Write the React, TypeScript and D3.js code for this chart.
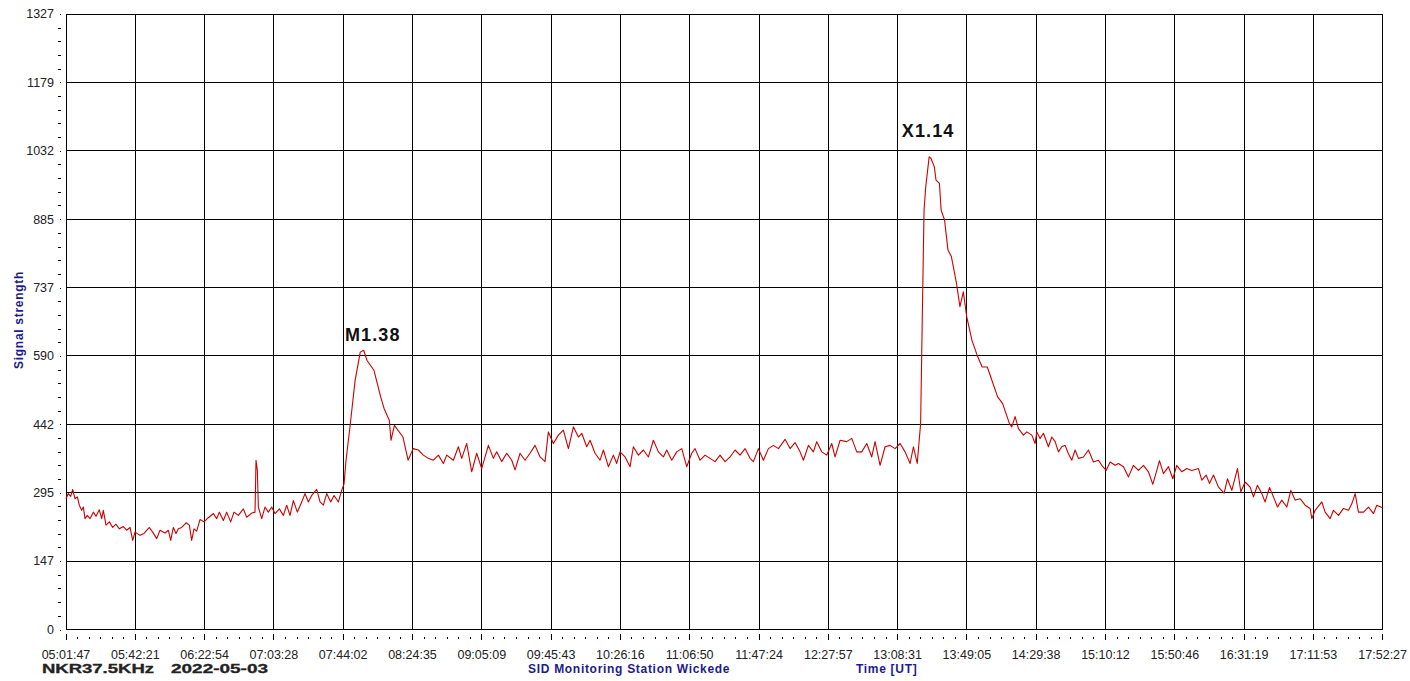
import { useMemo } from "react";
import * as d3 from "d3";

const WIDTH = 1410;
const HEIGHT = 681;
const MARGIN = { top: 14, left: 66, right: 1410 - 1382.7, bottom: 681 - 629.5 };

const FONT = "'Liberation Sans', Arial, sans-serif";
const TRACE_COLOR = "#cc0000";
const NAVY = "#1c1c8a";

// x axis labels (UT)
const X_TICK_LABELS = [
  "05:01:47", "05:42:21", "06:22:54", "07:03:28", "07:44:02", "08:24:35", "09:05:09",
  "09:45:43", "10:26:16", "11:06:50", "11:47:24", "12:27:57", "13:08:31", "13:49:05",
  "14:29:38", "15:10:12", "15:50:46", "16:31:19", "17:11:53", "17:52:27",
];

const Y_TICK_LABELS = [0, 147, 295, 442, 590, 737, 885, 1032, 1179, 1327];
const Y_MAX = 1327;

// signal trace, in pieces
// morning (before M flare)
const morningTimes = [
  "05:01:47", "05:03:09", "05:04:31", "05:05:41", "05:07:03", "05:08:25", "05:09:35", "05:10:57",
  "05:11:56", "05:12:54", "05:14:16", "05:15:50", "05:17:47", "05:19:20", "05:21:17", "05:22:40",
  "05:23:38", "05:25:12", "05:27:09", "05:29:06", "05:31:03", "05:33:00", "05:35:20", "05:37:17",
  "05:39:15", "05:40:49", "05:42:10", "05:45:06", "05:47:26", "05:50:34", "05:52:31", "05:54:51",
  "05:56:49", "05:59:44", "06:01:41", "06:03:03", "06:04:37", "06:06:10", "06:07:32", "06:09:29",
  "06:12:02", "06:13:59", "06:15:20", "06:16:43", "06:18:16", "06:20:13", "06:22:34", "06:25:06",
  "06:28:02", "06:29:59", "06:31:32", "06:33:53", "06:35:50", "06:38:10", "06:40:07", "06:42:40",
  "06:45:35", "06:47:32", "06:50:28", "06:52:25", "06:53:00", "06:53:47", "06:54:22", "06:56:19",
  "06:58:16", "07:00:13", "07:02:10", "07:04:07", "07:06:40", "07:09:00", "07:10:57", "07:12:54",
  "07:14:51", "07:17:12", "07:19:44", "07:21:41", "07:23:38", "07:25:35", "07:28:31", "07:30:28",
  "07:32:25", "07:34:22", "07:36:43", "07:38:40", "07:41:12", "07:43:09", "07:44:31", "07:45:41",
];
const morningValues = [
  282, 293, 287, 302, 282, 286, 268, 257,
  264, 239, 246, 239, 253, 244, 258, 239,
  257, 225, 232, 220, 227, 217, 222, 214,
  220, 192, 210, 203, 207, 220, 210, 196,
  214, 208, 214, 192, 220, 207, 217, 220,
  230, 225, 192, 217, 212, 237, 232, 241,
  250, 239, 253, 235, 253, 232, 253, 246,
  260, 242, 251, 253, 365, 343, 264, 239,
  264, 253, 264, 250, 260, 246, 268, 246,
  278, 253, 275, 293, 275, 289, 302, 275,
  268, 293, 275, 289, 275, 300, 314, 365,
];

// M1.38 flare
const mFlareTimes = [
  "07:48", "07:51", "07:54", "07:56", "07:58", "08:02", "08:06",
  "08:08", "08:11", "08:12", "08:14", "08:19", "08:22", "08:25",
];
const mFlareValues = [
  437, 537, 598, 602, 580, 559, 501,
  476, 451, 408, 440, 415, 365, 390,
];

// midday plateau
const middayTimes = [
  "08:28:01", "08:30:57", "08:33:53", "08:36:48", "08:39:44", "08:42:40", "08:44:37",
  "08:48:31", "08:51:26", "08:53:23", "08:56:19", "08:59:14", "09:02:10", "09:05:05",
  "09:09:00", "09:11:55", "09:13:52", "09:16:48", "09:19:44", "09:22:40", "09:24:37",
  "09:27:32", "09:30:28", "09:33:23", "09:36:19", "09:39:14", "09:42:10", "09:44:07",
  "09:47:03", "09:49:58", "09:52:54", "09:55:50", "09:58:45", "10:01:41", "10:03:38",
  "10:06:34", "10:08:31", "10:11:26", "10:14:22", "10:16:19", "10:19:14", "10:22:10",
  "10:24:07", "10:26:04", "10:29:00", "10:31:55", "10:33:52", "10:36:48", "10:39:44",
  "10:42:40", "10:45:35", "10:48:31", "10:51:26", "10:53:23", "10:56:19", "10:59:14",
  "11:02:10", "11:05:05", "11:08:01", "11:09:58", "11:12:54", "11:15:49", "11:18:45",
  "11:21:41", "11:24:37", "11:27:32", "11:30:28", "11:33:23", "11:36:19", "11:39:14",
  "11:42:10", "11:44:07", "11:47:03", "11:49:58", "11:52:54", "11:55:49", "11:58:45",
  "12:02:39", "12:05:35", "12:08:31", "12:11:26", "12:13:23", "12:16:19", "12:19:14",
  "12:21:11", "12:24:07", "12:27:03", "12:29:58", "12:31:55", "12:34:51", "12:38:45",
  "12:41:41", "12:44:37", "12:47:32", "12:50:28", "12:53:23", "12:55:20", "12:58:16",
  "13:01:11", "13:04:07", "13:07:03", "13:09:58", "13:12:54", "13:15:50", "13:17:47",
];
const middayValues = [
  387, 376, 369, 365, 376, 358, 376,
  365, 394, 369, 401, 340, 380, 347,
  397, 369, 383, 362, 380, 365, 344,
  380, 365, 380, 397, 372, 362, 426,
  401, 419, 430, 390, 437, 415, 423,
  394, 408, 380, 365, 387, 351, 376,
  358, 383, 372, 351, 394, 376, 387,
  372, 408, 383, 372, 387, 365, 383,
  390, 351, 380, 390, 365, 376, 369,
  362, 376, 362, 372, 387, 376, 390,
  369, 362, 390, 365, 390, 397, 390,
  410, 390, 403, 383, 365, 397, 383,
  405, 383, 376, 401, 372, 408, 405,
  412, 383, 383, 401, 372, 405, 354,
  394, 397, 390, 401, 383, 358, 394,
];

// X1.14 flare
const xFlareTimes = [
  "13:20", "13:22", "13:23", "13:24", "13:25", "13:27", "13:28",
  "13:30", "13:31", "13:33", "13:34", "13:36", "13:38", "13:40",
  "13:43", "13:45", "13:47", "13:49", "13:52", "13:55",
  "13:58", "14:01", "14:03", "14:07", "14:10", "14:14",
];
const xFlareValues = [
  358, 444, 680, 904, 955, 1019, 1016,
  998, 969, 962, 904, 883, 818, 804,
  746, 696, 728, 674, 624, 592,
  566, 566, 545, 502, 487, 444,
];

// afternoon decline
const afternoonTimes = [
  "14:15:21", "14:17:18", "14:19:15", "14:22:11", "14:24:08", "14:27:04",
  "14:29:01", "14:29:59", "14:31:56", "14:33:53", "14:36:49", "14:38:46",
  "14:40:43", "14:42:40", "14:44:37", "14:46:34", "14:48:31", "14:50:28",
  "14:52:25", "14:54:22", "14:57:18", "15:00:14", "15:03:09", "15:06:05",
  "15:08:02", "15:10:34", "15:12:55", "15:15:50", "15:17:47", "15:20:43",
  "15:23:38", "15:26:34", "15:29:29", "15:32:25", "15:35:21", "15:37:53",
  "15:40:14", "15:41:47", "15:44:08", "15:47:04", "15:49:36", "15:51:56",
  "15:54:52", "15:57:47", "16:00:43", "16:04:37", "16:06:34", "16:09:07",
  "16:11:04", "16:13:24", "16:16:20", "16:19:38", "16:21:35", "16:24:08",
  "16:27:27", "16:29:24", "16:31:56", "16:34:52", "16:36:49", "16:39:09",
  "16:41:41", "16:43:38", "16:46:11", "16:48:31", "16:50:52", "16:53:24",
  "16:56:19", "16:58:40", "17:01:12", "17:04:08", "17:07:03", "17:09:59",
  "17:10:58", "17:12:55", "17:16:49", "17:18:46", "17:21:41", "17:23:38",
  "17:26:34", "17:29:30", "17:32:25", "17:34:22", "17:36:19", "17:38:16",
  "17:41:12", "17:44:08", "17:47:03", "17:49:00", "17:51:56", "17:52:27",
];
const afternoonValues = [
  437, 459, 433, 419, 426, 419,
  401, 426, 412, 423, 394, 415,
  405, 383, 394, 397, 379, 365,
  387, 369, 372, 387, 361, 365,
  354, 343, 361, 354, 358, 351,
  329, 354, 343, 354, 340, 313,
  343, 364, 336, 351, 325, 354,
  340, 347, 343, 347, 322, 333,
  315, 333, 307, 294, 325, 300,
  347, 297, 318, 307, 286, 311,
  293, 275, 306, 286, 264, 279,
  264, 300, 279, 282, 268, 261,
  239, 257, 275, 253, 239, 257,
  246, 261, 257, 271, 293, 253,
  253, 264, 250, 268, 263, 264,
];

// flare annotations
const flareLabels = ["M1.38", "X1.14"];
const flareTimes = ["07:45:06", "13:11:00"];
const flareLevels = [623, 1061];

const toSeconds = (s: string) => {
  const p = s.split(":").map(Number);
  return p[0] * 3600 + p[1] * 60 + (p[2] || 0);
};

export default function App() {
  const innerW = WIDTH - MARGIN.left - MARGIN.right;
  const innerH = HEIGHT - MARGIN.top - MARGIN.bottom;

  const t0 = toSeconds(X_TICK_LABELS[0]);
  const t1 = toSeconds(X_TICK_LABELS[X_TICK_LABELS.length - 1]);
  const step = (t1 - t0) / (X_TICK_LABELS.length - 1);

  const xScale = useMemo(
    () => d3.scaleLinear().domain([t0, t1]).range([MARGIN.left, MARGIN.left + innerW]),
    [t0, t1, innerW]
  );
  const yScale = useMemo(
    () => d3.scaleLinear().domain([0, Y_MAX]).range([MARGIN.top + innerH, MARGIN.top]),
    [innerH]
  );

  const times = [...morningTimes, ...mFlareTimes, ...middayTimes, ...xFlareTimes, ...afternoonTimes];
  const values = [...morningValues, ...mFlareValues, ...middayValues, ...xFlareValues, ...afternoonValues];
  const data = times.map((t, i) => ({ t: toSeconds(t), v: values[i] }));
  const linePath = d3
    .line<{ t: number; v: number }>()
    .defined((d) => d.v != null)
    .x((d) => xScale(d.t))
    .y((d) => yScale(d.v))(data);

  const xMajor = X_TICK_LABELS.map((_, i) => t0 + i * step);
  const xMinor = d3.range(0, (X_TICK_LABELS.length - 1) * 6 + 1).map((i) => t0 + (i * step) / 6);
  const yStep = Y_MAX / (Y_TICK_LABELS.length - 1);
  const yMajor = Y_TICK_LABELS.map((_, i) => i * yStep);
  const yMinor = d3.range(0, (Y_TICK_LABELS.length - 1) * 5 + 1).map((i) => (i * yStep) / 5);

  const left = MARGIN.left;
  const right = MARGIN.left + innerW;
  const top = MARGIN.top;
  const bottom = MARGIN.top + innerH;

  return (
    <svg
      width={WIDTH}
      height={HEIGHT}
      style={{ position: "absolute", left: 0, top: 0, background: "#fff" }}
    >
      <rect x={0} y={0} width={WIDTH} height={HEIGHT} fill="#fff" />

      {/* grid */}
      <g stroke="#000" strokeWidth={1} shapeRendering="crispEdges">
        {xMajor.map((t, i) => (
          <line key={"gx" + i} x1={xScale(t)} x2={xScale(t)} y1={top} y2={bottom} />
        ))}
        {yMajor.map((v, i) => (
          <line key={"gy" + i} x1={left} x2={right} y1={yScale(v)} y2={yScale(v)} />
        ))}
      </g>

      {/* trace */}
      <path d={linePath || ""} fill="none" stroke={TRACE_COLOR} strokeWidth={1.1} strokeLinejoin="round" />

      {/* y axis ticks + labels */}
      <g stroke="#000" strokeWidth={1} shapeRendering="crispEdges">
        {yMinor.map((v, i) => (
          <line
            key={"ym" + i}
            x1={i % 5 === 0 ? 60 : 58}
            x2={61}
            y1={Math.round(yScale(v)) + 0.5}
            y2={Math.round(yScale(v)) + 0.5}
          />
        ))}
      </g>
      <g fontFamily={FONT} fontSize={12.5} fill="#222" textAnchor="end">
        {Y_TICK_LABELS.map((lab, i) => (
          <text key={"yl" + i} x={54} y={yScale(yMajor[i])} dy="0.35em">
            {lab}
          </text>
        ))}
      </g>

      {/* x axis ticks + labels */}
      <g stroke="#000" strokeWidth={1} shapeRendering="crispEdges">
        {xMinor.map((t, i) => (
          <line
            key={"xm" + i}
            x1={xScale(t)}
            x2={xScale(t)}
            y1={i % 6 === 0 ? 634 : 636.5}
            y2={i % 6 === 0 ? 640 : 639}
          />
        ))}
      </g>
      <g fontFamily={FONT} fontSize={12.5} fill="#222" textAnchor="middle">
        {X_TICK_LABELS.map((lab, i) => (
          <text key={"xl" + i} x={xScale(xMajor[i])} y={659}>
            {lab}
          </text>
        ))}
      </g>

      {/* flare annotations */}
      <g fontFamily={FONT} fontSize={18} fontWeight="bold" fill="#111" letterSpacing={1.1}>
        {flareLabels.map((lab, i) => (
          <text key={"fl" + i} x={xScale(toSeconds(flareTimes[i]))} y={yScale(flareLevels[i])}>
            {lab}
          </text>
        ))}
      </g>

      {/* titles */}
      <text
        x={42}
        y={673}
        fontFamily={FONT}
        fontSize={12.5}
        fontWeight="bold"
        fill="#222"
        textLength={112}
        lengthAdjust="spacingAndGlyphs"
        stroke="#222"
        strokeWidth={0.3}
      >
        NKR37.5KHz
      </text>
      <text
        x={171}
        y={673}
        fontFamily={FONT}
        fontSize={12.5}
        fontWeight="bold"
        fill="#222"
        textLength={97}
        lengthAdjust="spacingAndGlyphs"
        stroke="#222"
        strokeWidth={0.3}
      >
        2022-05-03
      </text>
      <text x={528} y={673} fontFamily={FONT} fontSize={12} fontWeight="bold" fill={NAVY} letterSpacing={0.7}>
        SID Monitoring Station Wickede
      </text>
      <text x={856} y={673} fontFamily={FONT} fontSize={12} fontWeight="bold" fill={NAVY} letterSpacing={0.7}>
        Time [UT]
      </text>
      <text
        transform="translate(23,320) rotate(-90)"
        textAnchor="middle"
        fontFamily={FONT}
        fontSize={12}
        fontWeight="bold"
        fill={NAVY}
        letterSpacing={0.7}
      >
        Signal strength
      </text>
    </svg>
  );
}
